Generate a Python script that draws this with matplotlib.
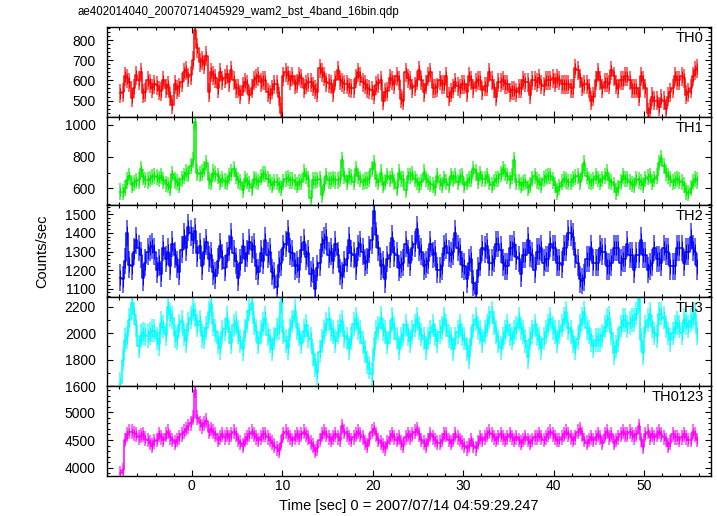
import numpy as np
import matplotlib
matplotlib.use("Agg")
import matplotlib.pyplot as plt
from matplotlib.ticker import MultipleLocator
from matplotlib.colors import to_rgb

plt.rcParams['font.family'] = ['Liberation Sans', 'DejaVu Sans']

TITLE = "ae402014040_20070714045929_wam2_bst_4band_16bin.qdp"
XLABEL = "Time [sec] 0 = 2007/07/14 04:59:29.247"
YLABEL = "Counts/sec"

BIN = 0.25
T_START = -8.0

BANDS = ["TH0", "TH1", "TH2", "TH3", "TH0123"]
COLORS = ["#ff0000", "#00ee00", "#0000ff", "#00ffff", "#ff00ff"]
ERRS = [48, 51, 71, 89, 134]

TH0 = [
    535, 540, 620, 610, 590, 515, 560, 625, 600, 640, 535, 540, 600, 585, 560, 580,
    575, 550, 545, 600, 560, 575, 520, 480, 580, 555, 565, 590, 640, 650, 615, 625,
    700, 850, 760, 690, 700, 680, 720, 540, 640, 625, 610, 560, 640, 600, 610, 630,
    590, 650, 600, 560, 560, 530, 570, 590, 580, 530, 560, 600, 610, 620, 590, 600,
    600, 540, 530, 555, 580, 580, 520, 440, 620, 640, 625, 600, 620, 580, 585, 620,
    610, 560, 580, 590, 590, 570, 555, 540, 660, 640, 620, 590, 585, 580, 540, 600,
    650, 600, 590, 580, 580, 565, 560, 560, 610, 640, 620, 590, 580, 560, 555, 550,
    530, 575, 585, 600, 500, 540, 545, 610, 600, 580, 620, 600, 510, 500, 640, 610,
    600, 560, 570, 600, 650, 600, 540, 580, 620, 640, 560, 560, 565, 600, 580, 580,
    620, 520, 540, 560, 590, 570, 560, 580, 580, 540, 620, 600, 560, 590, 600, 600,
    550, 570, 570, 640, 600, 560, 520, 590, 590, 600, 580, 580, 540, 550, 550, 540,
    560, 560, 600, 590, 590, 530, 600, 600, 590, 610, 580, 570, 600, 600, 600, 610,
    590, 610, 600, 580, 580, 580, 580, 560, 560, 660, 650, 610, 570, 580, 580, 560,
    500, 520, 600, 640, 600, 560, 590, 590, 580, 650, 620, 580, 560, 600, 600, 620,
    620, 600, 560, 560, 560, 520, 620, 600, 560, 440, 460, 520, 500, 500, 470, 510,
    500, 460, 520, 540, 560, 620, 600, 600, 620, 610, 530, 540, 560, 620, 650, 660,
]

TH1 = [
    580, 575, 600, 650, 680, 620, 635, 645, 650, 720, 670, 655, 650, 660, 670, 680,
    670, 660, 680, 650, 630, 620, 600, 690, 650, 640, 620, 660, 680, 700, 690, 740,
    780, 1020, 700, 690, 700, 720, 760, 650, 640, 700, 690, 680, 640, 660, 645, 640,
    680, 700, 720, 680, 650, 640, 590, 660, 645, 630, 600, 660, 650, 640, 670, 690,
    690, 660, 640, 620, 640, 640, 620, 600, 640, 660, 665, 650, 650, 640, 620, 640,
    640, 700, 680, 660, 540, 650, 650, 655, 660, 560, 620, 680, 650, 650, 660, 650,
    650, 660, 780, 680, 640, 680, 670, 640, 720, 680, 660, 640, 650, 650, 660, 720,
    760, 660, 640, 700, 620, 640, 680, 660, 680, 640, 600, 700, 660, 660, 590, 680,
    680, 690, 660, 640, 620, 640, 700, 660, 640, 625, 620, 600, 680, 640, 620, 660,
    640, 620, 680, 660, 680, 640, 670, 680, 620, 640, 660, 660, 720, 700, 650, 690,
    660, 660, 680, 640, 620, 640, 660, 660, 690, 720, 700, 680, 650, 680, 780, 640,
    640, 620, 635, 640, 600, 620, 660, 680, 650, 640, 620, 660, 670, 680, 680, 650,
    620, 580, 610, 640, 660, 650, 640, 640, 660, 670, 680, 640, 700, 760, 680, 650,
    640, 650, 680, 660, 640, 660, 680, 700, 650, 640, 620, 580, 600, 640, 680, 660,
    660, 640, 630, 620, 660, 650, 640, 620, 660, 670, 680, 640, 660, 680, 760, 790,
    740, 700, 680, 660, 640, 650, 660, 650, 640, 620, 580, 570, 600, 640, 660, 650,
]

TH2 = [
    1160, 1150, 1250, 1400, 1230, 1220, 1300, 1360, 1320, 1280, 1160, 1240, 1300, 1320, 1330, 1300,
    1200, 1240, 1180, 1320, 1260, 1300, 1220, 1340, 1280, 1230, 1190, 1310, 1380, 1320, 1430, 1400,
    1360, 1410, 1290, 1330, 1220, 1300, 1350, 1260, 1280, 1190, 1170, 1250, 1330, 1270, 1210, 1280,
    1320, 1380, 1290, 1250, 1160, 1240, 1330, 1260, 1290, 1350, 1310, 1330, 1220, 1190, 1290, 1250,
    1360, 1280, 1300, 1190, 1170, 1110, 1230, 1240, 1320, 1340, 1400, 1300, 1290, 1220, 1230, 1200,
    1310, 1350, 1270, 1290, 1180, 1200, 1100, 1210, 1240, 1340, 1360, 1380, 1280, 1300, 1250, 1340,
    1280, 1190, 1170, 1230, 1260, 1360, 1290, 1280, 1220, 1320, 1340, 1300, 1240, 1250, 1310, 1360,
    1520, 1390, 1320, 1220, 1230, 1150, 1260, 1280, 1370, 1290, 1280, 1210, 1230, 1240, 1340, 1290,
    1240, 1320, 1340, 1420, 1320, 1300, 1220, 1230, 1250, 1340, 1280, 1290, 1200, 1200, 1220, 1320,
    1330, 1290, 1280, 1300, 1400, 1320, 1300, 1230, 1220, 1150, 1240, 1260, 1130, 1070, 1200, 1240,
    1320, 1310, 1330, 1240, 1240, 1260, 1340, 1340, 1310, 1240, 1220, 1220, 1320, 1320, 1340, 1270,
    1260, 1180, 1280, 1280, 1360, 1290, 1280, 1200, 1300, 1300, 1320, 1240, 1260, 1260, 1340, 1320,
    1320, 1240, 1240, 1230, 1320, 1320, 1400, 1400, 1380, 1280, 1240, 1150, 1140, 1160, 1260, 1260,
    1320, 1240, 1240, 1240, 1320, 1300, 1300, 1220, 1220, 1240, 1320, 1320, 1320, 1240, 1260, 1260,
    1340, 1280, 1280, 1200, 1280, 1280, 1360, 1280, 1280, 1200, 1220, 1240, 1320, 1260, 1260, 1240,
    1320, 1300, 1300, 1220, 1220, 1220, 1320, 1320, 1320, 1240, 1300, 1300, 1380, 1320, 1300, 1220,
]

TH3 = [
    1620, 1800, 1950, 1970, 2100, 2230, 2150, 2060, 1900, 1980, 2000, 1990, 1980, 2000, 2020, 2020,
    1960, 1920, 2080, 2050, 1990, 2200, 2140, 2120, 1980, 1960, 2060, 2090, 1990, 1940, 2070, 2120,
    2180, 2140, 2060, 2090, 1980, 1970, 2040, 2160, 2220, 2070, 2020, 1930, 1890, 2010, 2030, 2120,
    2010, 1930, 2060, 2080, 2010, 1940, 1880, 2020, 2090, 2180, 2230, 2080, 2020, 1930, 2010, 2070,
    2120, 1990, 1940, 1880, 1960, 2030, 2040, 2240, 2010, 1940, 1890, 2030, 2090, 2170, 2040, 1990,
    1930, 2020, 2060, 1980, 1960, 1840, 1760, 1700, 1860, 1940, 2010, 2070, 2110, 2030, 2010, 1940,
    2010, 2060, 2090, 1980, 1960, 1890, 1960, 2070, 2110, 2040, 2010, 1930, 1860, 1780, 1740, 1690,
    1880, 2010, 2040, 2120, 2030, 2010, 1930, 2010, 2110, 2040, 1960, 1890, 1960, 1990, 2060, 1990,
    1940, 2010, 2060, 2110, 2040, 1990, 1960, 1890, 1960, 2010, 2060, 1990, 1940, 2010, 2040, 2110,
    2060, 1980, 1960, 1880, 1960, 2010, 2060, 1990, 1960, 1880, 1820, 1960, 2060, 2110, 2040, 2010,
    1940, 2010, 2060, 2120, 2160, 2080, 2010, 1940, 1890, 1960, 2010, 2060, 1990, 1960, 2010, 2040,
    2110, 2040, 2010, 1940, 1820, 1960, 2010, 2060, 1990, 1960, 1890, 1960, 2010, 2060, 2110, 2040,
    2010, 1940, 2010, 2060, 2110, 2160, 2040, 2010, 1940, 1890, 1960, 2060, 2110, 2160, 2040, 2010,
    1950, 1900, 1950, 1950, 1950, 1980, 2050, 2100, 2120, 2000, 1850, 1900, 1950, 2050, 2100, 2100,
    2050, 2080, 2100, 2100, 2150, 2260, 1950, 1850, 2050, 2100, 2150, 2050, 2000, 1980, 2150, 2150,
    2120, 2050, 2000, 1950, 2000, 2050, 2080, 2050, 2000, 2100, 2080, 2050, 2100, 2120, 2150, 2000,
]

TH0123 = [
    3900, 3950, 4500, 4600, 4650, 4650, 4620, 4600, 4550, 4580, 4600, 4520, 4500, 4450, 4400, 4480,
    4500, 4600, 4550, 4500, 4600, 4650, 4550, 4500, 4450, 4500, 4550, 4600, 4650, 4700, 4750, 4800,
    4900, 5400, 4900, 4800, 4750, 4800, 4850, 4650, 4700, 4650, 4600, 4500, 4550, 4600, 4550, 4600,
    4550, 4600, 4650, 4600, 4500, 4450, 4400, 4500, 4550, 4600, 4650, 4600, 4550, 4500, 4550, 4600,
    4600, 4550, 4500, 4450, 4400, 4350, 4300, 4450, 4600, 4650, 4600, 4550, 4500, 4550, 4600, 4550,
    4600, 4650, 4600, 4550, 4450, 4400, 4300, 4350, 4500, 4600, 4650, 4600, 4550, 4500, 4550, 4600,
    4550, 4500, 4750, 4650, 4600, 4550, 4500, 4550, 4600, 4650, 4600, 4550, 4450, 4400, 4500, 4650,
    4700, 4600, 4500, 4450, 4400, 4350, 4450, 4550, 4600, 4550, 4500, 4550, 4450, 4400, 4550, 4600,
    4550, 4600, 4650, 4700, 4600, 4500, 4450, 4400, 4500, 4600, 4550, 4500, 4450, 4450, 4500, 4600,
    4600, 4500, 4450, 4500, 4600, 4550, 4500, 4450, 4400, 4350, 4400, 4500, 4400, 4350, 4450, 4550,
    4500, 4550, 4600, 4650, 4600, 4550, 4500, 4550, 4600, 4550, 4500, 4550, 4600, 4550, 4500, 4550,
    4500, 4450, 4500, 4550, 4500, 4450, 4500, 4550, 4550, 4600, 4550, 4500, 4550, 4600, 4650, 4600,
    4550, 4500, 4500, 4550, 4600, 4650, 4600, 4550, 4500, 4550, 4650, 4700, 4600, 4500, 4450, 4500,
    4550, 4500, 4550, 4600, 4550, 4450, 4600, 4650, 4550, 4600, 4450, 4500, 4550, 4600, 4650, 4600,
    4600, 4650, 4600, 4550, 4600, 4750, 4500, 4380, 4600, 4650, 4550, 4600, 4550, 4600, 4650, 4600,
    4550, 4500, 4400, 4450, 4600, 4550, 4550, 4500, 4550, 4600, 4550, 4500, 4500, 4650, 4600, 4500,
]

SERIES = [TH0, TH1, TH2, TH3, TH0123]
YLIMS = [(420, 863), (495, 1052), (1057, 1550), (1600, 2278), (3850, 5475)]
YMAJ = [100, 200, 100, 200, 500]
YMIN = [20, 100, 20, 100, 100]
XLIM = (-9.36, 57.37)

W, H = 717, 516
fig = plt.figure(figsize=(W / 100, H / 100), dpi=100)

# panel edges in pixels from the top of the figure
edges = [27.3, 116.7, 205.0, 296.7, 386.0, 476.0]
left, right = 107, 711


def lighten(c, f):
    r, g, b = to_rgb(c)
    return (1 - f * (1 - r), 1 - f * (1 - g), 1 - f * (1 - b))


for k, (name, vals) in enumerate(zip(BANDS, SERIES)):
    top, bot = edges[k], edges[k + 1]
    ax = fig.add_axes([left / W, 1 - bot / H, (right - left) / W, (bot - top) / H])
    vals = np.array(vals, dtype=float)
    t = T_START + BIN * (np.arange(len(vals)) + 0.5)
    ax.errorbar(t, vals, yerr=ERRS[k], fmt='none', ecolor=lighten(COLORS[k], 0.6),
                elinewidth=1.4, capsize=0)
    ax.step(t, vals, where='mid', color=COLORS[k], lw=1.1)
    ax.errorbar(t, vals, yerr=ERRS[k] * 0.55, fmt='none', ecolor=COLORS[k],
                elinewidth=0.7, capsize=0)
    ax.set_xlim(*XLIM)
    ax.set_ylim(*YLIMS[k])
    ax.xaxis.set_major_locator(MultipleLocator(10))
    ax.xaxis.set_minor_locator(MultipleLocator(2))
    ax.yaxis.set_major_locator(MultipleLocator(YMAJ[k]))
    ax.yaxis.set_minor_locator(MultipleLocator(YMIN[k]))
    ax.tick_params(which='both', direction='in', top=True, right=True,
                   labelsize=10, width=0.8, pad=8)
    ax.tick_params(which='major', length=4)
    ax.tick_params(which='minor', length=2.5)
    for s in ax.spines.values():
        s.set_linewidth(1.0)
    if k < len(BANDS) - 1:
        ax.tick_params(labelbottom=False)
    else:
        ax.tick_params(axis='x', pad=2)
    ax.text(0.988, 0.955, name, transform=ax.transAxes, ha='right', va='top',
            fontsize=10.5)

fig.text(77 / W, 1 - 12 / H, TITLE, ha='left', va='center', fontsize=8.3)
fig.text(409 / W, 1 - 506 / H, XLABEL, ha='center', va='center', fontsize=10.5)
fig.text(42 / W, 1 - 251 / H, YLABEL, ha='center', va='center', rotation=90,
         fontsize=10.5)

fig.savefig("out.png", dpi=100)
